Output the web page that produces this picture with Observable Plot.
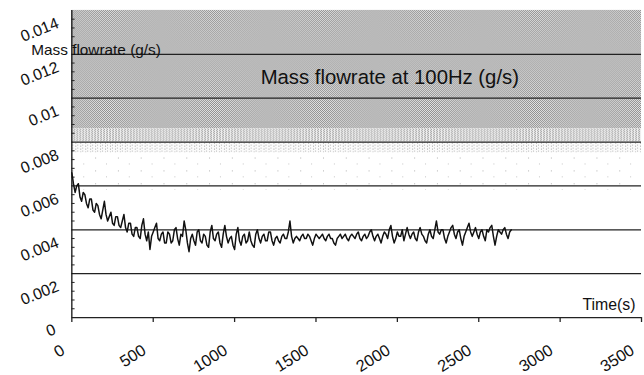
<!DOCTYPE html>
<html><head><meta charset="utf-8">
<script src="https://cdn.jsdelivr.net/npm/d3@7"></script>
<script src="https://cdn.jsdelivr.net/npm/@observablehq/plot@0.6"></script>
<style>
html,body{margin:0;padding:0;background:#fff;overflow:hidden;width:644px;height:375px;}
#chart svg{display:block;font-family:"Liberation Sans",Arial,sans-serif;}
</style></head>
<body><div id="chart"></div>
<script>
// time step of the sampled series (s)
const timeStep = 10;
// mass flowrate (g/s), one value every 10 s from 0 to 2700 s
const flowValues = [
 0.0066,0.0061,0.0057,0.0060,0.0061,0.0055,0.0053,0.0057,0.0056,0.0052,
 0.0050,0.0054,0.0054,0.0049,0.0048,0.0052,0.0051,0.0047,0.0045,0.0049,
 0.0053,0.0047,0.0044,0.0046,0.0048,0.0043,0.0042,0.0046,0.0046,0.0042,
 0.0041,0.0044,0.0047,0.0041,0.0039,0.0043,0.0043,0.0038,0.0037,0.0041,
 0.0041,0.0037,0.0036,0.0042,0.0045,0.0038,0.0035,0.0039,0.0031,0.0037,
 0.0039,0.0041,0.0043,0.0036,0.0035,0.0038,0.0039,0.0034,0.0034,0.0039,
 0.0038,0.0034,0.0035,0.0040,0.0041,0.0036,0.0033,0.0038,0.0037,0.0044,
 0.0040,0.0034,0.0030,0.0036,0.0038,0.0035,0.0033,0.0039,0.0040,0.0035,
 0.0034,0.0038,0.0037,0.0033,0.0032,0.0039,0.0042,0.0036,0.0035,0.0038,
 0.0039,0.0034,0.0032,0.0038,0.0042,0.0037,0.0034,0.0036,0.0037,0.0033,
 0.0031,0.0038,0.0041,0.0035,0.0033,0.0037,0.0038,0.0034,0.0035,0.0039,
 0.0035,0.0033,0.0032,0.0038,0.0040,0.0036,0.0034,0.0037,0.0038,0.0035,
 0.0035,0.0039,0.0039,0.0035,0.0033,0.0036,0.0037,0.0035,0.0034,0.0037,
 0.0038,0.0036,0.0036,0.0039,0.0044,0.0037,0.0034,0.0036,0.0037,0.0036,
 0.0035,0.0037,0.0038,0.0036,0.0036,0.0038,0.0037,0.0035,0.0033,0.0036,
 0.0038,0.0037,0.0036,0.0037,0.0038,0.0036,0.0035,0.0037,0.0038,0.0036,
 0.0036,0.0034,0.0033,0.0036,0.0037,0.0038,0.0036,0.0037,0.0038,0.0036,
 0.0035,0.0037,0.0038,0.0037,0.0036,0.0038,0.0039,0.0036,0.0035,0.0037,
 0.0038,0.0036,0.0037,0.0039,0.0040,0.0037,0.0035,0.0037,0.0038,0.0036,
 0.0034,0.0037,0.0039,0.0038,0.0036,0.0040,0.0042,0.0037,0.0034,0.0036,
 0.0039,0.0037,0.0037,0.0040,0.0035,0.0038,0.0041,0.0038,0.0036,0.0038,
 0.0039,0.0036,0.0035,0.0039,0.0041,0.0038,0.0037,0.0035,0.0034,0.0038,
 0.0040,0.0037,0.0036,0.0040,0.0044,0.0039,0.0038,0.0040,0.0040,0.0036,
 0.0034,0.0037,0.0039,0.0041,0.0042,0.0038,0.0036,0.0039,0.0040,0.0036,
 0.0033,0.0037,0.0039,0.0041,0.0043,0.0039,0.0037,0.0039,0.0041,0.0038,
 0.0036,0.0039,0.0040,0.0037,0.0035,0.0040,0.0039,0.0041,0.0042,0.0037,
 0.0033,0.0037,0.0040,0.0039,0.0038,0.0040,0.0041,0.0038,0.0036,0.0039,
 0.0040
];
// x tick values and labels
const xTicks = [0,500,1000,1500,2000,2500,3000,3500];
const xTickLabels = ["0","500","1000","1500","2000","2500","3000","3500"];
// y tick values and labels
const yTicks = [0,0.002,0.004,0.006,0.008,0.01,0.012,0.014];
const yTickLabels = ["0","0.002","0.004","0.006","0.008","0.01","0.012","0.014"];
const yMinorTicks = [0.0004,0.0008,0.0012,0.0016,0.0024,0.0028,0.0032,0.0036,0.0044,0.0048,0.0052,0.0056,0.0064,0.0068,0.0072,0.0076,0.0084,0.0088,0.0092,0.0096,0.0104,0.0108,0.0112,0.0116,0.0124,0.0128,0.0132,0.0136];
// shaded background bands (lower, upper, pattern id)
const bandLow = [0.0086, 0.0080, 0.0075, 0.0058];
const bandHigh = [0.0140, 0.0086, 0.0080, 0.0075];
const bandFill = ["dense", "medium", "light", "sparse"];
// texts
const yTitle = "Mass flowrate (g/s)";
const xTitle = "Time(s)";
const innerLabel = "Mass flowrate at 100Hz (g/s)";

const series = flowValues.map((v, i) => ({t: i * timeStep, v}));
const bands = bandLow.map((lo, i) => ({lo, hi: bandHigh[i], fill: `url(#${bandFill[i]})`}));
const yLab = yTicks.map((v, i) => ({v, label: yTickLabels[i]}));
const xLab = xTicks.map((v, i) => ({v, label: xTickLabels[i]}));

const chart = Plot.plot({
  width: 650, height: 375,
  marginLeft: 72, marginRight: 3, marginTop: 10, marginBottom: 55,
  x: {type: "linear", domain: [0, 3500], axis: null},
  y: {type: "linear", domain: [0, 0.014], axis: null},
  style: {fontFamily: "'Liberation Sans', Arial, sans-serif", background: "#fff", overflow: "visible"},
  marks: [
    Plot.rect(bands, {x1: () => 0, x2: () => 3500, y1: "lo", y2: "hi", fill: "fill"}),
    Plot.ruleY(yTicks.filter(d => d > 0 && d < 0.014), {stroke: "#222", strokeWidth: 1.3}),
    Plot.ruleY([0], {stroke: "#222", strokeWidth: 1.3}),
    Plot.ruleX([0], {y1: () => 0, y2: () => 0.014, stroke: "#111", strokeWidth: 1.3}),
    Plot.ruleY(yMinorTicks, {x1: () => 0, x2: () => 20, stroke: "#222", strokeWidth: 1}),
    Plot.ruleX(xTicks, {y1: () => 0, y2: () => 0, stroke: "#222", strokeWidth: 1.3, insetBottom: -5}),
    Plot.line(series, {x: "t", y: "v", stroke: "#111", strokeWidth: 1.5}),
    Plot.text(xLab, {x: "v", y: () => 0, text: "label", rotate: -32, textAnchor: "end", lineAnchor: "bottom", dx: -6, dy: 36, fontSize: 16.5, fill: "#111"}),
    Plot.text(yLab.filter(d => d.v > 0), {x: () => 0, y: "v", text: "label", rotate: -22, textAnchor: "end", lineAnchor: "bottom", dx: -12, dy: 17, fontSize: 16, fill: "#111"}),
    Plot.text(yLab.filter(d => d.v === 0), {x: () => 0, y: "v", text: "label", rotate: -22, textAnchor: "end", lineAnchor: "bottom", dx: -15, dy: 16, fontSize: 16, fill: "#111"}),
    Plot.text([yTitle], {x: () => 0, y: () => 0.014, text: d => d, textAnchor: "start", lineAnchor: "bottom", dx: -41, dy: 45, fontSize: 15.5, fill: "#111"}),
    Plot.text([innerLabel], {x: () => 1160, y: () => 0.011, text: d => d, textAnchor: "start", lineAnchor: "bottom", dy: 8, fontSize: 20.5, fill: "#111"}),
    Plot.text([xTitle], {x: () => 3500, y: () => 0, text: d => d, textAnchor: "end", lineAnchor: "bottom", dx: -6, dy: -8, fontSize: 16, fill: "#111"})
  ]
});

// stipple patterns for the scanned grey background
const ns = "http://www.w3.org/2000/svg";
const defs = document.createElementNS(ns, "defs");
defs.innerHTML = `
<pattern id="dense" patternUnits="userSpaceOnUse" width="2" height="2">
  <rect width="2" height="2" fill="#e6e6e6"/><rect width="1" height="1" fill="#8c8c8c"/><rect x="1" y="1" width="1" height="1" fill="#8c8c8c"/>
</pattern>
<pattern id="medium" patternUnits="userSpaceOnUse" width="3" height="2">
  <rect width="3" height="2" fill="#f0f0f0"/><rect width="1" height="1" fill="#959595"/><rect x="2" y="1" width="1" height="1" fill="#a0a0a0"/>
</pattern>
<pattern id="light" patternUnits="userSpaceOnUse" width="5" height="3">
  <rect width="5" height="3" fill="#fbfbfb"/><rect x="1" y="0" width="1" height="1" fill="#a0a0a0"/><rect x="3" y="2" width="1" height="1" fill="#b4b4b4"/>
</pattern>
<pattern id="sparse" patternUnits="userSpaceOnUse" width="23" height="13">
  <rect width="23" height="13" fill="#fff"/><rect x="4" y="3" width="1" height="1" fill="#b0b0b0"/><rect x="15" y="9" width="1" height="1" fill="#c4c4c4"/>
</pattern>`;
chart.insertBefore(defs, chart.firstChild);
document.getElementById("chart").appendChild(chart);
</script>
</body></html>
